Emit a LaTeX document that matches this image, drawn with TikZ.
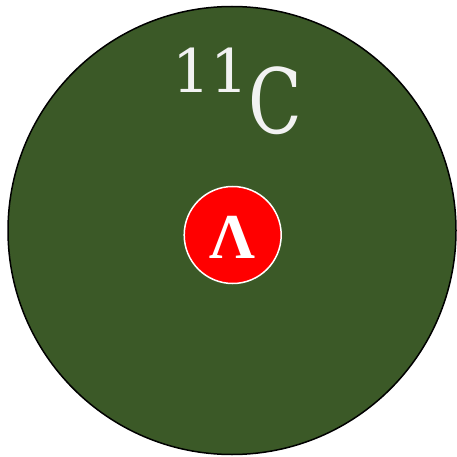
\documentclass[tikz,border=0pt]{standalone}
\usepackage{fontspec}
\newfontfamily\grkfont{Liberation Serif}
\newfontfamily\lblfont{DejaVu Serif}
\definecolor{nucgreen}{HTML}{3B5927}
\definecolor{txtgray}{HTML}{F2F2F2}
\begin{document}
\begin{tikzpicture}[x=1pt,y=-1pt,
  nucleus/.style={circle,draw=black,line width=1.5pt,fill=nucgreen,minimum size=448pt,inner sep=0pt},
  hyperon/.style={circle,draw=white,line width=1.5pt,fill=red,minimum size=97pt,inner sep=0pt,text=white},
  label/.style={inner sep=0pt,text=txtgray}]
\useasboundingbox (0,0) rectangle (456,457);
\node[nucleus] (nuc) at (232,230.5) {};
\node[hyperon] (lam) at (232.7,235) {};
\node[inner sep=0pt,text=white,anchor=base] (lamtxt) at (232.5,258) {\fontsize{64}{64}\selectfont\grkfont\bfseries Λ};
\node[label,anchor=base west] (mass) at (172,93) {\fontsize{60}{60}\selectfont\lblfont 11};
\node[label,anchor=base west] (elem) at (248,134) {\fontsize{90}{90}\selectfont\lblfont\scalebox{0.78}[1]{C}};
\end{tikzpicture}
\end{document}
